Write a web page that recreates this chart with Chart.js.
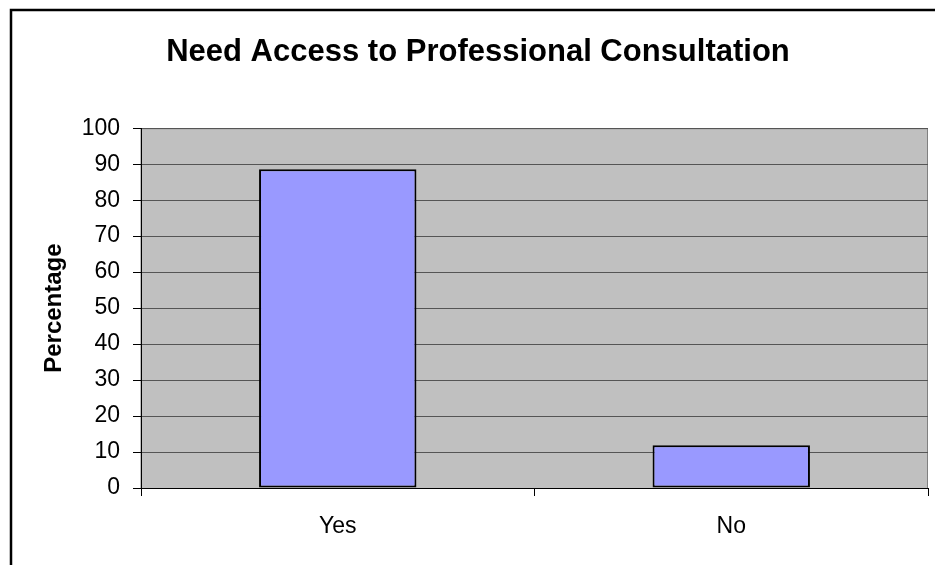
<!DOCTYPE html>
<html>
<head>
<meta charset="utf-8">
<title>Need Access to Professional Consultation</title>
<script src="https://cdn.jsdelivr.net/npm/chart.js@4/dist/chart.umd.min.js"></script>
<style>
  body { margin: 0; background: #fff; }
  #wrap { width: 935px; height: 565px; }
</style>
</head>
<body>
<div id="wrap"><canvas id="barchart" width="935" height="565"></canvas></div>
<script>
// need access to professional consultation bar chart
var categories = ["Yes", "No"];
var percentages = [88.6, 11.9];
var yTicks = [0, 10, 20, 30, 40, 50, 60, 70, 80, 90, 100];

// grey plot area plus the outer frame round the whole chart
var backdrop = {
    id: "backdrop",
    beforeDraw: function(chart) {
        var ctx = chart.ctx;
        var a = chart.chartArea;
        ctx.save();
        ctx.fillStyle = "#c0c0c0";
        ctx.fillRect(a.left, a.top, a.right - a.left, a.bottom - a.top);
        ctx.strokeStyle = "#808080";
        ctx.lineWidth = 1;
        ctx.strokeRect(a.left, a.top + 0.5, a.right - a.left - 0.5, a.bottom - a.top);
        ctx.restore();
    },
    afterDraw: function(chart) {
        var ctx = chart.ctx;
        ctx.save();
        ctx.strokeStyle = "#000";
        ctx.lineWidth = 2.5;
        ctx.strokeRect(11, 10, 1000, 1000);
        ctx.restore();
    }
};

const ctx = document.getElementById("barchart").getContext("2d");

const config = {
    type: "bar",
    data: {
        labels: categories,
        datasets: [
            {
                label: "Percentage",
                data: percentages,
                backgroundColor: "#9999ff",
                borderColor: "#000",
                borderWidth: 2,
                borderSkipped: false,
                barPercentage: 0.4,
                categoryPercentage: 1.0
            }
        ]
    },
    options: {
        responsive: false,
        animation: false,
        layout: {
            padding: { left: 28, right: 7, top: 0, bottom: 0 }
        },
        scales: {
            x: {
                afterFit: function(scale) { scale.height = 77; },
                border: { color: "#000", width: 1 },
                grid: {
                    offset: true,
                    drawOnChartArea: false,
                    tickLength: 8,
                    color: "#000"
                },
                ticks: {
                    color: "#000",
                    padding: 17,
                    font: { family: "Liberation Sans, Arial, sans-serif", size: 23 }
                }
            },
            y: {
                min: 0,
                max: 100,
                afterFit: function(scale) { scale.width = 113; },
                afterBuildTicks: function(scale) {
                    scale.ticks = yTicks.map(function(v) { return { value: v }; });
                },
                border: { color: "#000", width: 1 },
                grid: {
                    color: "#555",
                    tickColor: "#000",
                    tickLength: 8
                },
                ticks: {
                    color: "#000",
                    padding: 13,
                    font: { family: "Liberation Sans, Arial, sans-serif", size: 23 }
                },
                title: {
                    display: true,
                    text: "Percentage",
                    color: "#000",
                    padding: { top: 12, bottom: 0 },
                    font: { family: "Liberation Sans, Arial, sans-serif", size: 24, weight: "bold" }
                }
            }
        },
        plugins: {
            legend: {
                display: false
            },
            tooltip: {
                enabled: false
            },
            title: {
                display: true,
                text: "Need Access to Professional Consultation",
                color: "#000",
                padding: { top: 34, bottom: 57 },
                font: { family: "Liberation Sans, Arial, sans-serif", size: 31, weight: "bold" }
            }
        }
    },
    plugins: [backdrop]
};

var barChart = new Chart(ctx, config);
</script>
</body>
</html>
